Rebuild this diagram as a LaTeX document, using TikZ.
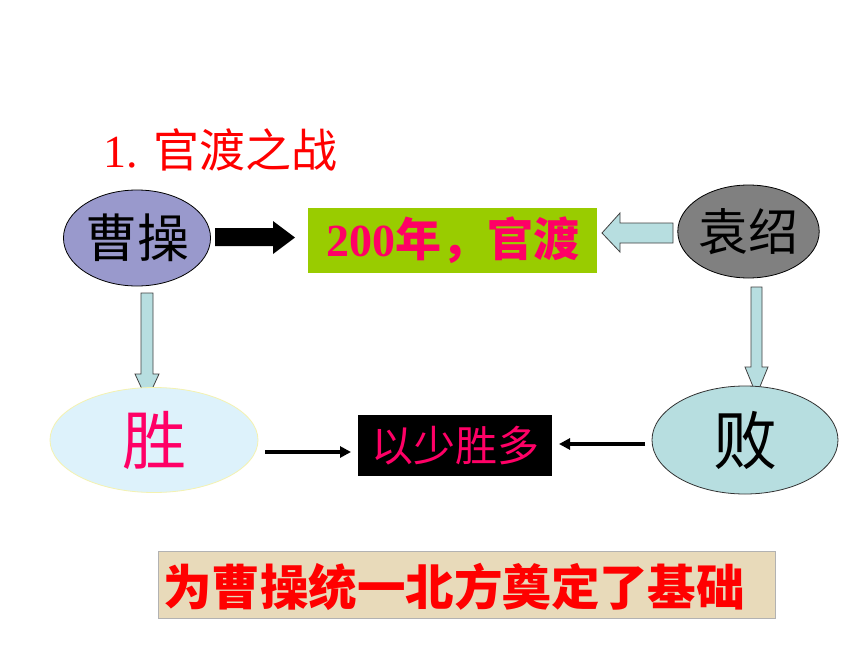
\documentclass[tikz,border=0pt]{standalone}
\usepackage{fontspec}
\setmainfont{Liberation Serif}
\newfontfamily\cjk{Noto Sans CJK SC}
\usetikzlibrary{arrows.meta,shapes.geometric}
\definecolor{lav}{HTML}{9999CC}
\definecolor{lime}{HTML}{99CC00}
\definecolor{pinkred}{HTML}{FF0066}
\definecolor{paleblue}{HTML}{DDF2FB}
\definecolor{palecyan}{HTML}{B7DEE0}
\definecolor{midgray}{HTML}{808080}
\definecolor{parch}{HTML}{E8DABA}
\definecolor{paleyel}{HTML}{F4F2B0}
\begin{document}
\begin{tikzpicture}[x=1pt,y=-1pt,
  oval/.style={ellipse, inner sep=0pt, line width=0.8pt},
  blockcyan/.style={fill=palecyan, draw=black!75, line width=0.8pt, line join=miter},
  thinarrow/.style={line width=3.4pt, -{Triangle[length=11pt,width=11pt]}}]
\useasboundingbox (0,0) rectangle (860,645);
\fill[white] (0,0) rectangle (860,645);

% title
\node[anchor=west, text=red, inner sep=0pt, font=\fontsize{46}{46}\selectfont] (title) at (103,150) {1. {\cjk 官渡之战}};

% top row
\node[oval, fill=lav, draw=black, minimum width=144, minimum height=96,
      font=\cjk\fontsize{52}{52}\selectfont] (cao) at (137,238) {曹操};
\node[rectangle, fill=lime, inner sep=0pt, minimum width=289, minimum height=65,
      text=pinkred, font=\fontsize{46}{46}\selectfont] (time) at (452.5,240.5)
      {\bfseries 200{\cjk\bfseries 年，官渡}};
\node[oval, fill=midgray, draw=black, minimum width=137, minimum height=93,
      font=\cjk\fontsize{50}{50}\selectfont] (yuan) at (748.5,231.5) {袁绍};

% block arrows top
\fill[black] (215,228) -- (273,228) -- (273,221) -- (295,237.5) -- (273,254)
   -- (273,246) -- (215,246) -- cycle;
\draw[blockcyan] (673,223) -- (620,223) -- (620,213) -- (602,233) -- (620,252)
   -- (620,243) -- (673,243) -- cycle;

% vertical block arrows
\draw[blockcyan] (141,293) -- (153,293) -- (153,374) -- (159,374) -- (147,400)
   -- (135,374) -- (141,374) -- cycle;
\draw[blockcyan] (751,287) -- (762,287) -- (762,367) -- (768,367) -- (756.5,395)
   -- (745,367) -- (751,367) -- cycle;

% bottom row
\node[oval, fill=paleblue, draw=paleyel, minimum width=208, minimum height=105,
      text=pinkred, font=\cjk\fontsize{64}{64}\selectfont] (sheng) at (154,440) {胜};
\node[rectangle, fill=black, inner sep=0pt, minimum width=194, minimum height=61,
      text=pinkred, font=\cjk\fontsize{42}{42}\selectfont] (few) at (455,445.5) {以少胜多};
\node[oval, fill=palecyan, draw=black!80, minimum width=186, minimum height=108,
      font=\cjk\fontsize{64}{64}\selectfont] (bai) at (745,440) {败};

\coordinate (s1) at (265,452);
\coordinate (e1) at (351,452);
\coordinate (s2) at (645,444);
\coordinate (e2) at (559,444);
\draw[thinarrow] (s1) -- (e1);
\draw[thinarrow] (s2) -- (e2);

% conclusion box
\node[rectangle, fill=parch, draw=black!30, line width=0.8pt, inner sep=0pt,
      minimum width=617, minimum height=67] (base) at (466.5,584.5) {};
\node[text=red, inner sep=0pt, font=\cjk\bfseries\fontsize{48.5}{48.5}\selectfont] (concl) at (454,587)
      {为曹操统一北方奠定了基础};
\end{tikzpicture}
\end{document}
